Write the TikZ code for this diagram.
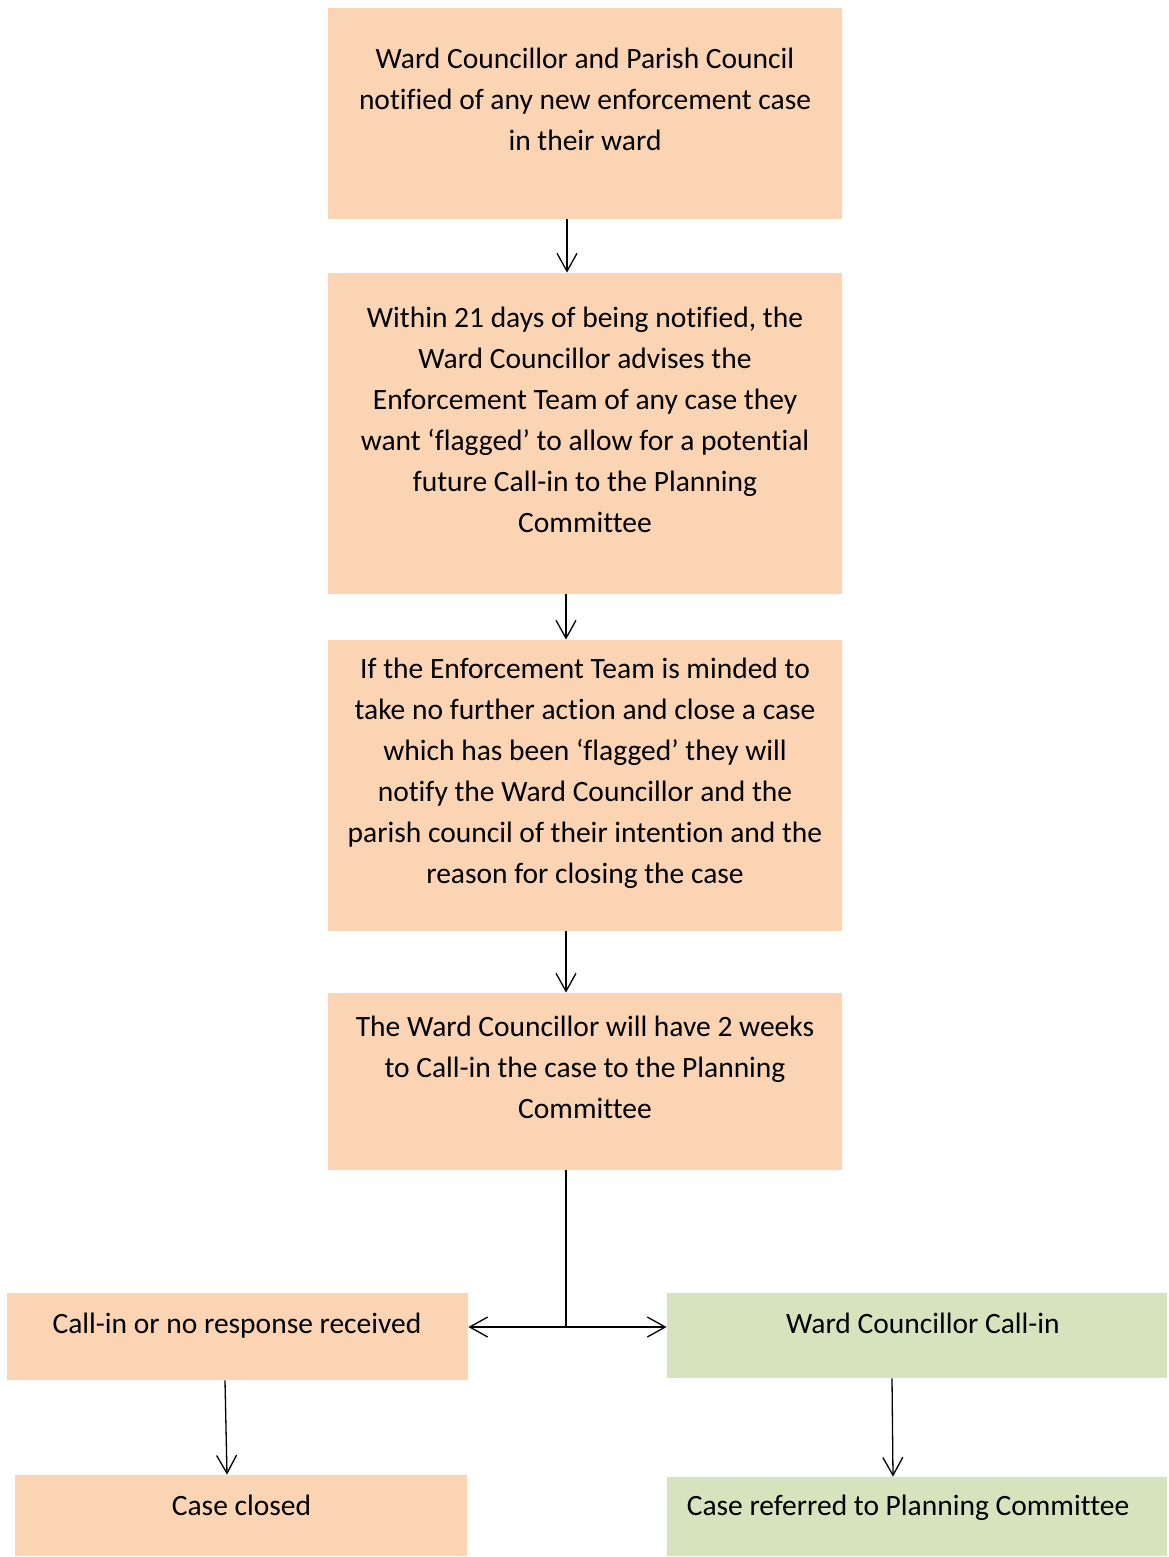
\documentclass[tikz,border=0pt]{standalone}
\usepackage{fontspec}
\setmainfont{Carlito}[Ligatures=NoCommon]
\usepackage{xcolor}
\usepackage{tikz}
\usetikzlibrary{arrows.meta}
\definecolor{peach}{HTML}{FBD4B4}
\definecolor{sage}{HTML}{D6E3BC}
\begin{document}
\begin{tikzpicture}[x=0.5pt,y=-0.5pt,
    box/.style={draw=none, fill=peach, inner sep=0pt},
    txt/.style={align=center, inner sep=0pt, font=\fontsize{14.75}{20.5}\selectfont},
    arr/.style={-{Straight Barb[length=9pt,width=10pt]}, line width=0.65pt}]
            \useasboundingbox (0,0) rectangle (1168,1557);
            % boxes
            \node [box, minimum width=257pt, minimum height=105.5pt] (notify) at (585,113.5) {};
            \node [box, minimum width=257pt, minimum height=160.5pt] (flag) at (585,433.5) {};
            \node [box, minimum width=257pt, minimum height=145.5pt] (close) at (585,785.5) {};
            \node [box, minimum width=257pt, minimum height=88.5pt] (weeks) at (585,1081.5) {};
            \node [box, minimum width=230.5pt, minimum height=43.5pt] (nores) at (237.5,1336.5) {};
            \node [box, fill=sage, minimum width=250pt, minimum height=42.5pt] (callin) at (917,1335.5) {};
            \node [box, minimum width=226pt, minimum height=40.5pt] (closed) at (241,1515.5) {};
            \node [box, fill=sage, minimum width=250pt, minimum height=39.5pt] (referred) at (917,1516.5) {};
            % texts
            \node [txt] (notifytext) at (585,99) {Ward Councillor and Parish Council\\notified of any new enforcement case\\in their ward};
            \node [txt] (flagtext) at (585,420) {Within 21 days of being notified, the\\Ward Councillor advises the\\Enforcement Team of any case they\\want `flagged' to allow for a potential\\future Call-in to the Planning\\Committee};
            \node [txt] (closetext) at (585,773) {If the Enforcement Team is minded to\\take no further action and close a case\\which has been `flagged' they will\\notify the Ward Councillor and the\\parish council of their intention and the\\reason for closing the case};
            \node [txt] (weekstext) at (585,1067) {The Ward Councillor will have 2 weeks\\to Call-in the case to the Planning\\Committee};
            \node [txt] (norestext) at (237,1326) {Call-in or no response received};
            \node [txt] (callintext) at (923,1323) {Ward Councillor Call-in};
            \node [txt] (closedtext) at (241.5,1505) {Case closed};
            \node [txt] (referredtext) at (908,1508) {Case referred to Planning Committee};
            % connectors
            \coordinate (split) at (566,1327);
            \draw [arr] ([xshift=-9pt]notify.south) -- ([xshift=-9pt]flag.north);
            \draw [arr] ([xshift=-9.5pt]flag.south) -- ([xshift=-9.5pt]close.north);
            \draw [arr] ([xshift=-9.5pt]close.south) -- ([xshift=-9.5pt]weeks.north);
            \draw [line width=0.65pt] ([xshift=-9.5pt]weeks.south) -- (split);
            \draw [arr] (split) -- (nores.east |- split);
            \draw [arr] (split) -- (callin.west |- split);
            \draw [arr] ([xshift=-6.25pt]nores.south) -- ([xshift=-7pt]closed.north);
            \draw [arr] ([xshift=-12.5pt]callin.south) -- ([xshift=-12pt]referred.north);
        \end{tikzpicture}
\end{document}
